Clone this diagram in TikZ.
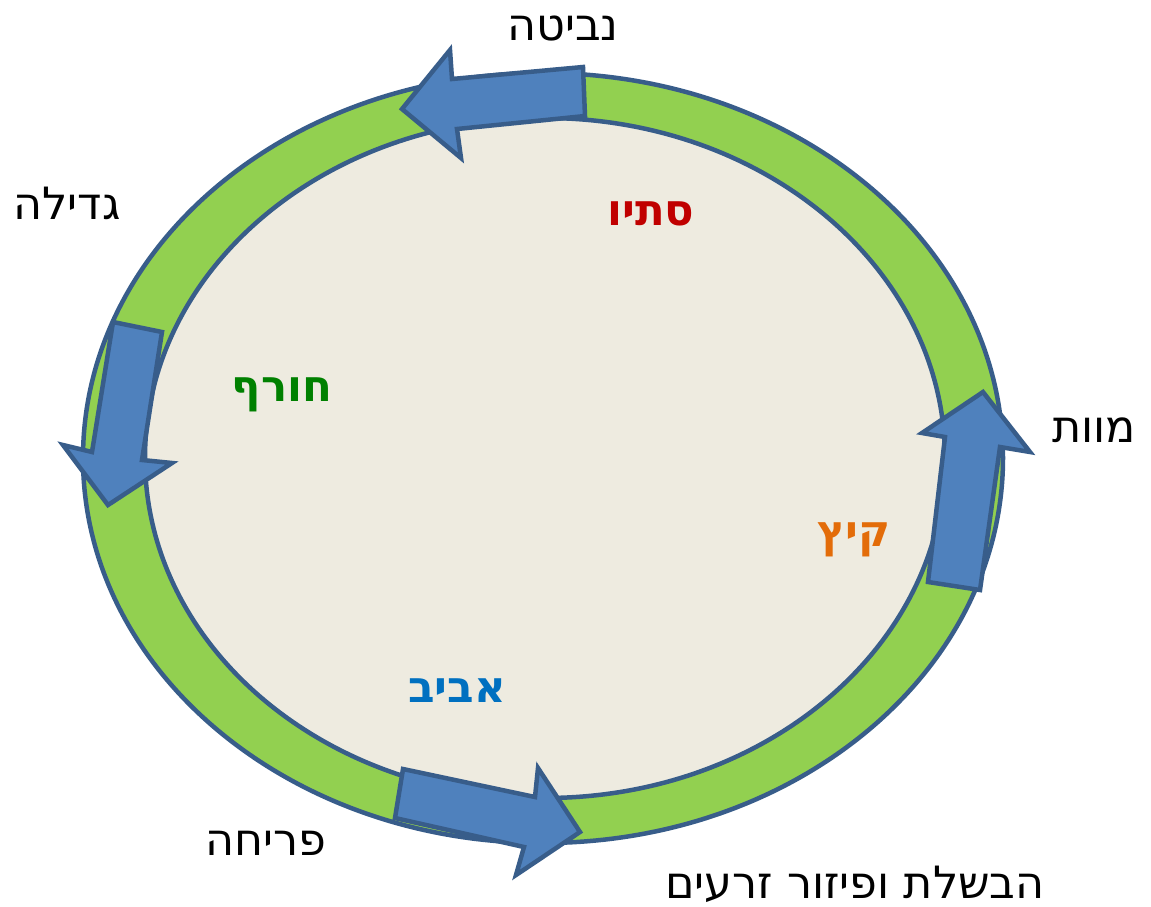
\documentclass[tikz,border=0pt]{standalone}
\usepackage{fontspec}
\TeXXeTstate=1
\newfontfamily\heb[Script=Hebrew]{DejaVu Sans}
\definecolor{ringgreen}{HTML}{92D050}
\definecolor{innerbg}{HTML}{EEEBE0}
\definecolor{edgeblue}{HTML}{385D8A}
\definecolor{arrowblue}{HTML}{4F81BD}
\definecolor{wred}{HTML}{C00000}
\definecolor{wgreen}{HTML}{008000}
\definecolor{worange}{HTML}{E36C09}
\definecolor{wblue}{HTML}{0070C0}
\tikzset{
  ringline/.style={draw=edgeblue, line width=4.5pt},
  blockarrow/.style={draw=edgeblue, fill=arrowblue, line width=4.5pt, line join=miter},
  stagelabel/.style={anchor=base, inner sep=0pt, font=\heb\fontsize{44.5}{48}\selectfont},
  seasonlabel/.style={anchor=base, inner sep=0pt, font=\heb\bfseries\fontsize{43.5}{48}\selectfont},
}
\begin{document}
\begin{tikzpicture}[x=1pt,y=-1pt]
\useasboundingbox (0,0) rectangle (1151,906);
\fill[white] (0,0) rectangle (1151,906);
% ring
\path[ringline, fill=ringgreen] (543,458) ellipse [x radius=460, y radius=385];
\path[ringline, fill=innerbg] (545,458) ellipse [x radius=400, y radius=340];
% arrows
\path[blockarrow] (583,67) -- (452,79) -- (450,50) -- (402,109) -- (461,158) -- (457,129) -- (585,116) -- cycle;
\path[blockarrow] (113,322) -- (162,332) -- (142,460) -- (172,463) -- (108,505) -- (63,445) -- (92,452) -- cycle;
\path[blockarrow] (928,582) -- (980,590) -- (1000,447) -- (1030,452) -- (983,392) -- (922,433) -- (945,437) -- cycle;
\path[blockarrow] (403,769) -- (535,797) -- (538,768) -- (580,832) -- (516,875) -- (524,847) -- (395,818) -- cycle;
% stage labels
\node[stagelabel] (nevita) at (563,40) {\beginR נביטה\endR};
\node[stagelabel] (gdila) at (67,219) {\beginR גדילה\endR};
\node[stagelabel] (mavet) at (1094,442) {\beginR מוות\endR};
\node[stagelabel] (pricha) at (266,855) {\beginR פריחה\endR};
\node[stagelabel] (havshala) at (855,898) {\beginR הבשלת ופיזור זרעים\endR};
% seasons
\node[seasonlabel, text=wred] (stav) at (651,225) {\beginR סתיו\endR};
\node[seasonlabel, text=wgreen] (choref) at (282,401) {\beginR חורף\endR};
\node[seasonlabel, text=worange] (kayitz) at (854,546) {\beginR קיץ\endR};
\node[seasonlabel, text=wblue] (aviv) at (457,702) {\beginR אביב\endR};
\end{tikzpicture}
\end{document}
